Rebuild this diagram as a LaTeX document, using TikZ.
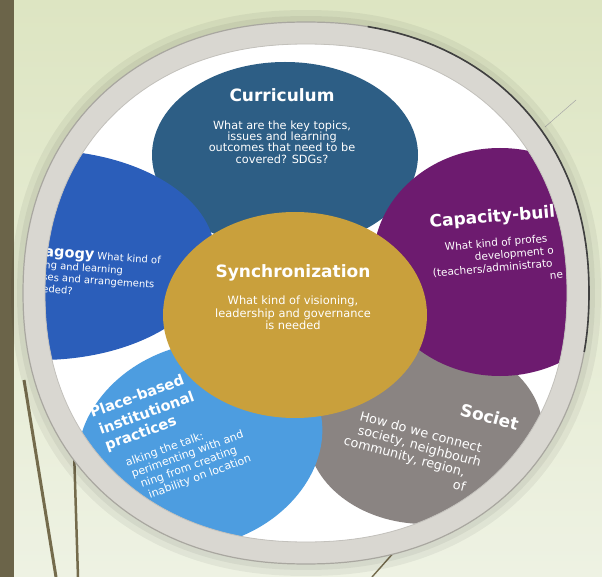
\documentclass[tikz,border=0pt]{standalone}
\usepackage{fontspec}
\setmainfont{DejaVu Sans}
\definecolor{bgA}{HTML}{DDE5C2}
\definecolor{bgB}{HTML}{EEF2E3}
\definecolor{stripecol}{HTML}{6B6449}
\definecolor{oliveline}{HTML}{746B4C}
\definecolor{ringcol}{HTML}{D9D7D1}
\definecolor{ringedge}{HTML}{A9A7A0}
\definecolor{curcol}{HTML}{2D5E85}
\definecolor{pedcol}{HTML}{2B5EBA}
\definecolor{capcol}{HTML}{6D1B6F}
\definecolor{placecol}{HTML}{4D9DE0}
\definecolor{soccol}{HTML}{8A8482}
\definecolor{synccol}{HTML}{C9A03C}
\begin{document}
\begin{tikzpicture}[x=1pt,y=-1pt,
  hdr/.style={text=white,inner sep=0pt,font=\fontsize{17}{19}\selectfont\bfseries},
  ctrbody/.style={text=white,inner sep=0pt,align=center},
  frag/.style={text=white,inner sep=0pt,anchor=base west}]
\useasboundingbox (0,0) rectangle (602,577);
% background
\shade[top color=bgA, bottom color=bgB] (0,0) rectangle (602,577);
\fill[stripecol] (0,0) rectangle (14,577);
% olive lines behind the ring
\draw[oliveline, line width=3pt] (24,380) -- (56,577);
\draw[oliveline, line width=2.5pt] (74,450) -- (78,577);
\draw[oliveline, line width=1.4pt] (372,577) -- (396,550);
\draw[gray!70, line width=0.5pt] (545,127) -- (576,100);
% soft shadow around the ring
\fill[black, opacity=0.05] plot[domain=1:361, samples=181]
  ({306+295*cos(\x)*abs(cos(\x))^(-0.08)},{293-283*sin(\x)*abs(sin(\x))^(-0.08)}) -- cycle;
\fill[black, opacity=0.05] plot[domain=1:361, samples=181]
  ({306+289*cos(\x)*abs(cos(\x))^(-0.08)},{293-277*sin(\x)*abs(sin(\x))^(-0.08)}) -- cycle;
% petals clipped to inner disc
\begin{scope}
  \clip plot[domain=1:361, samples=181]
    ({306+261*cos(\x)*abs(cos(\x))^(-0.08)},{293-249*sin(\x)*abs(sin(\x))^(-0.08)}) -- cycle;
  \fill[white] (0,0) rectangle (602,577);
  \fill[curcol] (285,155) ellipse [x radius=133pt, y radius=93pt];
  \fill[soccol] (425,432) ellipse [x radius=118pt, y radius=92pt];
  \fill[placecol, rotate around={20:(200,445)}] (200,445) ellipse [x radius=125pt, y radius=100pt];
  \fill[pedcol] (40,255) ellipse [x radius=175pt, y radius=105pt];
  \fill[capcol] (500,262) ellipse [x radius=127pt, y radius=114pt];
  \fill[synccol] (295,315) ellipse [x radius=132pt, y radius=103pt];
  % texts
  \node[hdr] (curhdr) at (282,95) {Curriculum};
  \node[ctrbody, font=\fontsize{11.3}{11.2}\selectfont] (curbody) at (282,142)
    {What are the key topics,\\issues and learning\\outcomes that need to be\\covered? SDGs?};
  \node[hdr] (synchdr) at (293,273) {Synchronization};
  \node[ctrbody, font=\fontsize{11.4}{12.5}\selectfont] (syncbody) at (293,313)
    {What kind of visioning,\\leadership and governance\\is needed};
  % pedagogy
  \node[frag, rotate=-4, font=\fontsize{10}{12}\selectfont] (ped1) at (44,256)
    {{\fontsize{14.5}{16}\selectfont\bfseries agogy} What kind of};
  \node[frag, rotate=-4, font=\fontsize{10}{12}\selectfont] (ped2) at (44,268.5) {ng and learning};
  \node[frag, rotate=-4, font=\fontsize{10}{12}\selectfont] (ped3) at (42,280.5) {ses and arrangements};
  \node[frag, rotate=-4, font=\fontsize{10}{12}\selectfont] (ped4) at (42,292.5) {eded?};
  % capacity-building
  \node[frag, rotate=5, font=\fontsize{17}{19}\selectfont\bfseries] (caphdr) at (430,228) {Capacity-buil};
  \node[frag, rotate=5, font=\fontsize{10.5}{12}\selectfont] (cap1) at (445,251) {What kind of profes};
  \node[frag, rotate=5, font=\fontsize{10.5}{12}\selectfont] (cap2) at (475,261) {development o};
  \node[frag, rotate=5, font=\fontsize{10.5}{12}\selectfont] (cap3) at (433,277) {(teachers/administrato};
  \node[frag, rotate=5, font=\fontsize{10.5}{12}\selectfont] (cap4) at (550,279.5) {ne};
  % place-based
  \node[frag, rotate=20, font=\fontsize{14.5}{16}\selectfont\bfseries] (pl1) at (92,418) {Place-based};
  \node[frag, rotate=20, font=\fontsize{14.5}{16}\selectfont\bfseries] (pl2) at (101,435) {institutional};
  \node[frag, rotate=20, font=\fontsize{14.5}{16}\selectfont\bfseries] (pl3) at (107,450.5) {practices};
  \node[frag, rotate=20, font=\fontsize{11}{12}\selectfont] (pl4) at (127,467) {alking the talk:};
  \node[frag, rotate=20, font=\fontsize{11}{12}\selectfont] (pl5) at (133,478) {perimenting with and};
  \node[frag, rotate=20, font=\fontsize{11}{12}\selectfont] (pl6) at (142,488) {ning from creating};
  \node[frag, rotate=20, font=\fontsize{11}{12}\selectfont] (pl7) at (150,498.5) {inability on location};
  % society
  \node[frag, rotate=-15, font=\fontsize{17}{19}\selectfont\bfseries] (sochdr) at (459,415) {Societ};
  \node[frag, rotate=-15, font=\fontsize{12.8}{14}\selectfont] (soc1) at (359,420) {How do we connect};
  \node[frag, rotate=-15, font=\fontsize{12.8}{14}\selectfont] (soc2) at (357,434) {society, neighbourh};
  \node[frag, rotate=-15, font=\fontsize{12.8}{14}\selectfont] (soc3) at (343,444.5) {community, region,};
  \node[frag, rotate=-15, font=\fontsize{12.8}{14}\selectfont] (soc4) at (452,488) {of};
\end{scope}
% ring
\fill[ringcol, even odd rule]
  plot[domain=1:361, samples=181]
    ({306+283*cos(\x)*abs(cos(\x))^(-0.08)},{293-271*sin(\x)*abs(sin(\x))^(-0.08)}) -- cycle
  plot[domain=1:361, samples=181]
    ({306+261*cos(\x)*abs(cos(\x))^(-0.08)},{293-249*sin(\x)*abs(sin(\x))^(-0.08)}) -- cycle;
\draw[ringedge, line width=1.2pt] plot[domain=1:361, samples=181]
    ({306+283*cos(\x)*abs(cos(\x))^(-0.08)},{293-271*sin(\x)*abs(sin(\x))^(-0.08)}) -- cycle;
\draw[ringedge!70, line width=0.8pt] plot[domain=1:361, samples=181]
    ({306+261*cos(\x)*abs(cos(\x))^(-0.08)},{293-249*sin(\x)*abs(sin(\x))^(-0.08)}) -- cycle;
\draw[black!75, line width=1.6pt] plot[domain=-11:79, samples=46]
    ({306+283*cos(\x)*abs(cos(\x))^(-0.08)},{293-271*sin(\x)*abs(sin(\x))^(-0.08)});
\end{tikzpicture}
\end{document}
